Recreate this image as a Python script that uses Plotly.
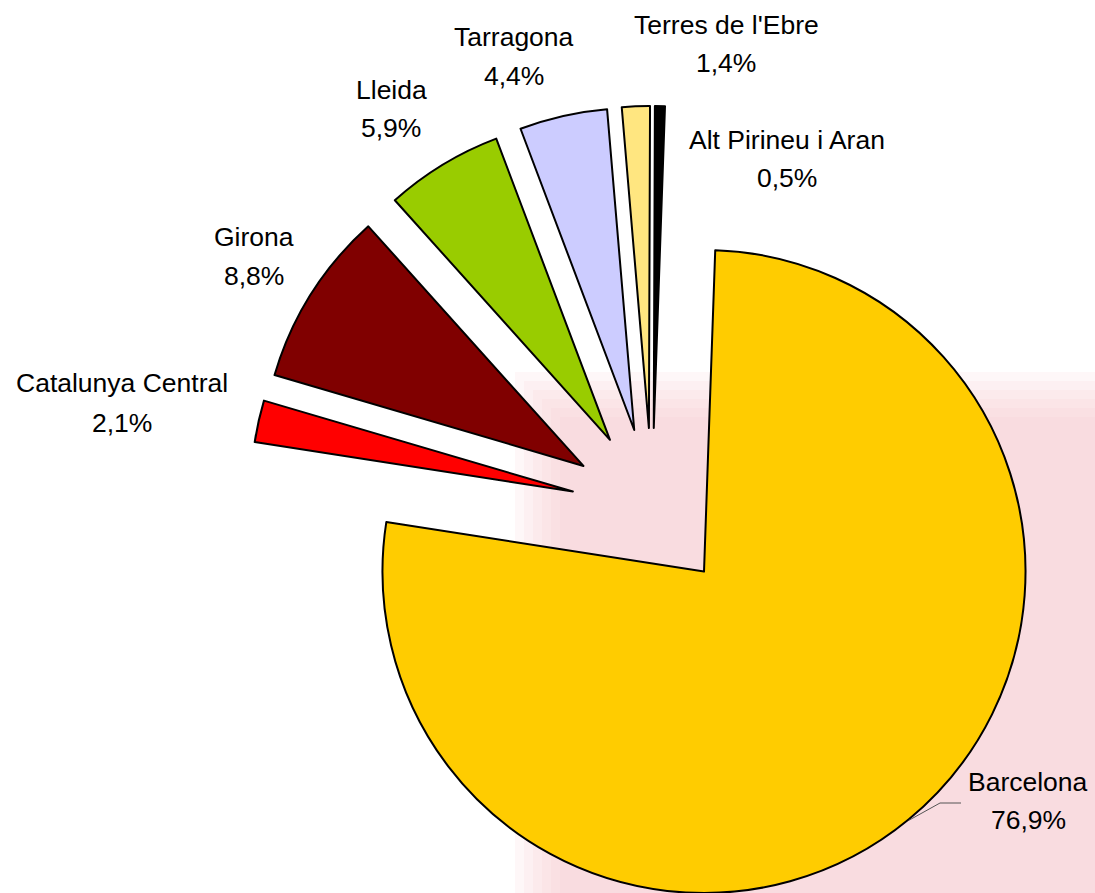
import math
import plotly.graph_objects as go

# ---- data ----
regions = ["Barcelona", "Catalunya Central", "Girona", "Lleida",
           "Tarragona", "Terres de l'Ebre", "Alt Pirineu i Aran"]
shares = [76.9, 2.1, 8.8, 5.9, 4.4, 1.4, 0.5]
colors = ["#FFCC00", "#FF0000", "#800000", "#99CC00",
          "#CCCCFF", "#FFE680", "#000000"]

# ---- layout parameters (pixels) ----
W, H = 1095, 893
R_PX = 322          # pie radius
CX, CY = 652.2, 509.3   # pie centre before explosion
PULL = 0.2525       # explosion of every slice, fraction of radius
ROT = 2.0           # first slice start angle (deg, clockwise from 12 o'clock)

# label placement: (x centre, y of first line, y of second line) in pixels
label_pos = [
    (1028, 782, 820),
    (122, 383, 423),
    (254, 237, 276),
    (391, 90, 128),
    (514, 37, 76),
    (726, 25, 63),
    (787, 140, 178),
]

FONT = "Liberation Sans, Arial, sans-serif"
FS = 26.5

fig = go.Figure()
total = sum(shares)
cum = 0.0
mids = []
centres = []
for i, v in enumerate(shares):
    mid = ROT + (cum + v / 2.0) / total * 360.0
    cum += v
    mids.append(mid)
    a = math.radians(mid)
    ux, uy = math.sin(a), -math.cos(a)
    cx = CX + PULL * R_PX * ux
    cy = CY + PULL * R_PX * uy
    centres.append((cx, cy))
    x0 = max(0.0, (cx - R_PX) / W)
    x1 = min(1.0, (cx + R_PX) / W)
    y0 = max(0.0, 1 - (cy + R_PX) / H)
    y1 = min(1.0, 1 - (cy - R_PX) / H)
    fig.add_trace(go.Pie(
        values=shares,
        labels=regions,
        sort=False,
        direction="clockwise",
        rotation=ROT,
        marker=dict(
            colors=[colors[j] if j == i else "rgba(0,0,0,0)" for j in range(len(shares))],
            line=dict(color="#000000",
                      width=[2 if j == i else 0 for j in range(len(shares))]),
        ),
        textinfo="none",
        hoverinfo="label+percent",
        domain=dict(x=[x0, x1], y=[y0, y1]),
        showlegend=False,
    ))

annotations = []
for name, v, (lx, ly1, ly2) in zip(regions, shares, label_pos):
    pct = f"{v:.1f}".replace(".", ",") + "%"
    for txt, ly in ((name, ly1), (pct, ly2)):
        annotations.append(dict(
            x=lx / W, y=1 - ly / H, xref="paper", yref="paper",
            text=txt, showarrow=False, xanchor="center", yanchor="middle",
            font=dict(family=FONT, size=FS, color="#000000"),
        ))

# leader line for Barcelona label, starting at the arc midpoint of the slice
bx, by = centres[0]
a0 = math.radians(mids[0])
sx, sy = bx + R_PX * math.sin(a0), by - R_PX * math.cos(a0)
ex, ey = label_pos[0][0] - 67, (label_pos[0][1] + label_pos[0][2]) / 2 + 2
kx = ex - 21
path = (f"M {sx / W} {1 - sy / H} L {kx / W} {1 - ey / H} L {ex / W} {1 - ey / H}")

shapes = []
# faint, soft-edged watermark tint in the background
for k in range(6):
    shapes.append(dict(
        type="rect", xref="paper", yref="paper", layer="below",
        x0=(515 + 9 * k) / W, x1=1.0, y0=0.0, y1=1 - (372 + 9 * k) / H,
        fillcolor="#F5C6CD", opacity=0.14, line=dict(width=0)))
shapes.append(dict(type="path", xref="paper", yref="paper", path=path,
                   line=dict(color="#555555", width=1)))

fig.update_layout(
    width=W, height=H,
    margin=dict(l=0, r=0, t=0, b=0),
    paper_bgcolor="#FFFFFF",
    plot_bgcolor="rgba(0,0,0,0)",
    annotations=annotations,
    shapes=shapes,
    font=dict(family=FONT, size=FS),
)

fig.write_html("out.html",
               config={"displayModeBar": False},
               post_script="document.body.style.margin='0';document.body.style.overflow='hidden';")
